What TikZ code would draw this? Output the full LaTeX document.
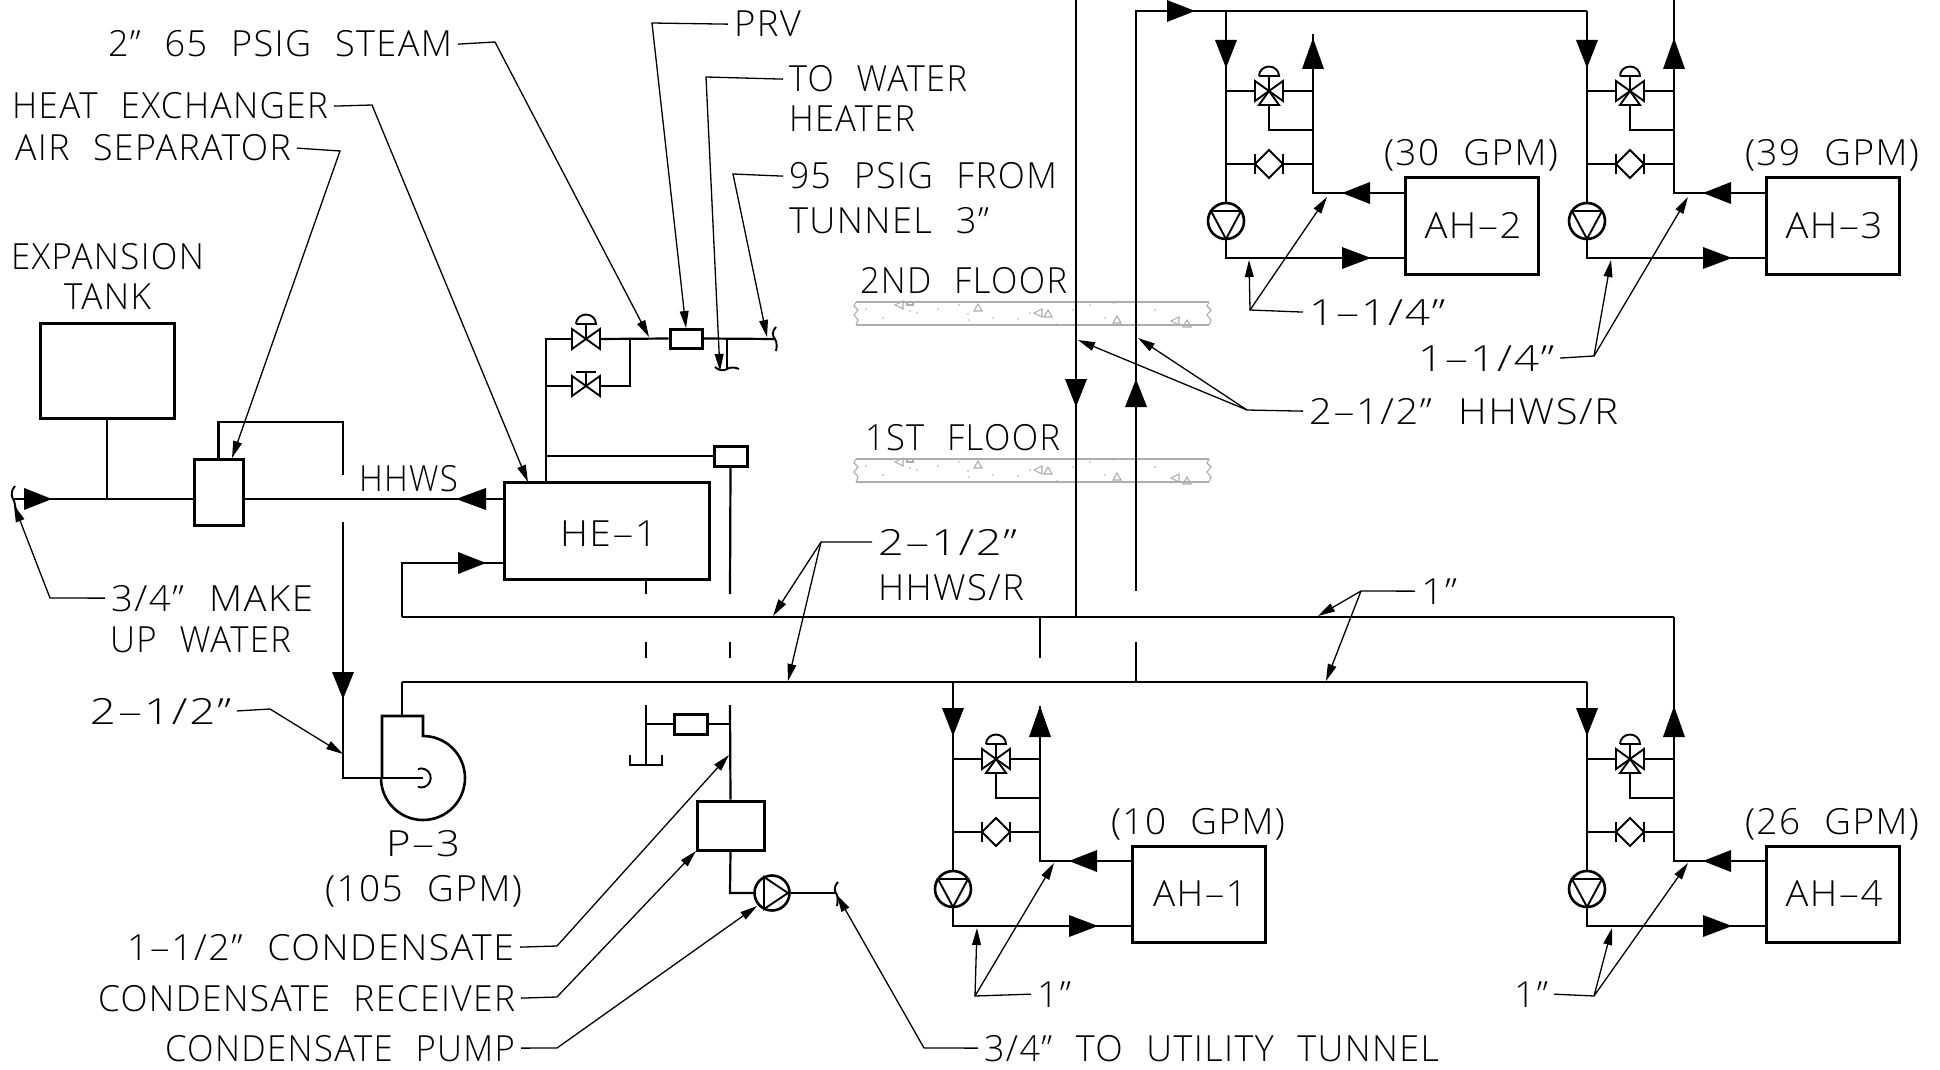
\documentclass[tikz,border=0pt]{standalone}
\usepackage{fontspec}
\usepackage{graphicx}
\usetikzlibrary{arrows.meta,calc}
\newfontfamily\cadfont[UprightFont=* Light,LetterSpace=4,WordSpace=2.2]{Open Sans}
\newsavebox\cadbox
\newlength\cadlen
\newcommand\cadfit[2]{\sbox\cadbox{\fontsize{18pt}{20pt}\cadfont #2}\setlength\cadlen{\wd\cadbox}\pgfmathsetmacro\cadr{#1*0.5/\cadlen}\scalebox{\cadr}[1]{\usebox\cadbox}}
\newcommand\hy{\scalebox{1.9}[1]{-}}
\newcommand\lab[5]{\node[lbl] (#1) at (#2,#3) {\cadfit{#4}{#5}};}
\newcommand\arH[3]{\fill (#1,#3-11) -- (#2,#3) -- (#1,#3+11) -- cycle;}
\newcommand\arV[3]{\fill (#1-11,#2) -- (#1,#3) -- (#1+11,#2) -- cycle;}
% air-handler unit: name, ox, oy, supply top, return top, box text, box text width, gpm text
\newcommand\ahunit[8]{%
\begin{scope}[shift={(#2,#3)}]
\coordinate (#1s) at (0,#4);
\coordinate (#1r) at (87,#5);
\coordinate (#1bs) at (179,167);
\coordinate (#1br) at (179,102);
\coordinate (#1cr) at (87,102);
\coordinate (#1c1) at (0,0);
\coordinate (#1c2) at (87,0);
\coordinate (#1d1) at (0,73);
\coordinate (#1d2) at (87,73);
\coordinate (#1ba) at (87,39);
\node[equip,minimum width=66.5pt,minimum height=48pt] (#1box) at (245.5,135) {};
\node[inner sep=0pt,anchor=base] (#1t) at (247,147) {\cadfit{#7}{#6}};
\node[pumpc] (#1p) at (0,130) {};
\node[lbl] (#1g) at (158,75) {\cadfit{174}{#8}};
\draw[pipe] (#1s) -- (#1p.north);
\draw[pipe] (#1p.south) |- (#1bs);
\draw[pipe] (#1r) -- (#1cr) -- (#1br);
\draw[pipe] (#1c1) -- (29,0);
\draw[pipe] (57,0) -- (#1c2);
\draw[pipe] (#1d1) -- (29,73);
\draw[pipe] (57,73) -- (#1d2);
\draw[pipe] (43,14) |- (#1ba);
\begin{scope}[xshift=21.5pt]
\draw[sym] (-14,-10) -- (-14,10) -- (14,-10) -- (14,10) -- cycle;
\draw[sym] (0,0) -- (-10,14) -- (10,14) -- cycle;
\draw[sym] (0,0) -- (0,-15);
\draw[sym] (-10,-15) -- (10,-15) arc[start angle=0,end angle=-180,x radius=10,y radius=9.5];
\draw[sym] (-14,63) -- (-14,83) (14,63) -- (14,83);
\draw[sym] (-14,73) -- (0,59) -- (14,73) -- (0,87) -- cycle;
\end{scope}
\draw[sym] (-15,120) -- (15,120) -- (0,148) -- cycle;
\arV{0}{-51}{-23}
\arV{87}{-22}{-53}
\arH{144}{116}{102}
\arH{116}{145}{167}
\end{scope}}
\newcommand\slab[1]{%
\begin{scope}[shift={(856,#1)},conc]
\draw (0,0) -- (353,0) (0,23) -- (353,23);
\draw (0,0) -- (-2,4) -- (2,8) -- (-2,13) -- (2,18) -- (0,23);
\draw (353,0) -- (351,4) -- (355,8) -- (351,13) -- (355,18) -- (353,23);
\foreach \a/\b in {122/6,192/12,261/18,331/22}
  \draw (\a-4,\b+3) -- (\a+4,\b+3) -- (\a,\b-4) -- cycle;
\foreach \a/\b in {43/3,182/11,319/19}
  \draw (\a+4,\b+4) -- (\a+4,\b-4) -- (\a-4,\b) -- cycle;
\draw (51,0) rectangle (57,3);
\foreach \a/\b in {10/7,27/16,54/9,61/11,82/7,103/3,112/12,113/18,137/16,162/17,174/11,201/22,217/8,234/3,249/16,258/1,299/8}
  \fill (\a,\b) circle[radius=0.8];
\end{scope}}
\begin{document}
\begin{tikzpicture}[x=0.5pt,y=-0.5pt,
  pipe/.style={line width=1.1pt,line join=miter},
  sym/.style={line width=0.95pt,line join=miter},
  equip/.style={draw,line width=1.5pt,inner sep=0pt},
  pumpc/.style={circle,draw,line width=1.3pt,minimum size=18pt,inner sep=0pt},
  leader/.style={line width=0.65pt,-{Triangle[length=8.5pt,width=4.4pt]},shorten >=0pt},
  lbl/.style={inner sep=0pt,outer sep=3pt,anchor=base west,xshift=-3pt},
  conc/.style={line width=0.55pt,draw=black!32,fill=black!32}]
\useasboundingbox (0,0) rectangle (1940,1070);
\fill[white] (0,0) rectangle (1940,1070);
\slab{302}
\slab{459}
% labels
\lab{tSteam}{108}{57}{344}{2” 65 PSIG STEAM}
\lab{tPrv}{734}{37}{67}{PRV}
\lab{tWat}{789}{92}{178}{TO WATER}
\lab{tWat2}{789}{132}{126}{HEATER}
\lab{tPsig}{789}{189}{268}{95 PSIG FROM}
\lab{tPsig2}{789}{234}{200}{TUNNEL 3”}
\lab{tHex}{12}{119}{316}{HEAT EXCHANGER}
\lab{tAir}{15}{161}{276}{AIR SEPARATOR}
\lab{tExp}{11}{270}{193}{EXPANSION}
\lab{tExp2}{64}{309}{87}{TANK}
\lab{tF2}{860}{293}{207}{2ND FLOOR}
\lab{tF1}{865}{450}{195}{1ST FLOOR}
\lab{tHhws}{359}{491}{99}{HHWS}
\lab{tMake}{111}{611}{202}{3/4” MAKE}
\lab{tMake2}{110}{652}{181}{UP WATER}
\lab{tMain}{878}{555}{139}{2\hy1/2”}
\lab{tMain2}{878}{600}{146}{HHWS/R}
\lab{tOne}{1421}{604}{36}{1”}
\lab{tPipe}{90}{724}{141}{2\hy1/2”}
\lab{tP3}{386}{856}{74}{P\hy3}
\lab{tGpm}{325}{901}{197}{(105 GPM)}
\lab{tCond}{127}{960}{387}{1\hy1/2” CONDENSATE}
\lab{tRec}{98}{1011}{417}{CONDENSATE RECEIVER}
\lab{tCp}{165}{1061}{350}{CONDENSATE PUMP}
\lab{tUtil}{984}{1061}{455}{3/4” TO UTILITY TUNNEL}
\lab{tA}{1037}{1007}{34}{1”}
\lab{tD}{1514}{1007}{34}{1”}
\lab{tB}{1309}{325}{136}{1\hy1/4”}
\lab{tC}{1418}{371}{136}{1\hy1/4”}
\lab{tHR}{1309}{424}{309}{2\hy1/2” HHWS/R}
\lab{tHe}{560}{546}{97}{HE\hy1}
% equipment
\node[equip,minimum width=67pt,minimum height=47.5pt] (tank) at (107,370.5) {};
\node[equip,minimum width=24.5pt,minimum height=33pt] (sep) at (218.5,492) {};
\node[equip,minimum width=102.5pt,minimum height=48.5pt] (he) at (606.5,530.5) {};
\node[equip,minimum width=16pt,minimum height=9.5pt] (prv) at (686,338.5) {};
\node[equip,minimum width=16.5pt,minimum height=10pt] (ctl) at (730.5,456) {};
\node[equip,minimum width=16.5pt,minimum height=10pt] (trap) at (690.5,724) {};
\node[equip,minimum width=33.5pt,minimum height=24.5pt] (rec) at (730.5,825.5) {};
\node[pumpc,minimum size=17.5pt] (cpump) at (772,893) {};
% air handlers
\ahunit{ahB}{1226}{91}{-80}{-57}{AH\hy2}{97}{(30 GPM)}
\ahunit{ahC}{1587}{91}{-80}{-91}{AH\hy3}{97}{(39 GPM)}
\ahunit{ahA}{953}{759}{-77}{-53}{AH\hy1}{94}{(10 GPM)}
\ahunit{ahD}{1587}{759}{-77}{-142}{AH\hy4}{97}{(26 GPM)}
% junctions
\coordinate (mL) at (14,499);
\coordinate (mT) at (107,499);
\coordinate (sW) at (194,499);
\coordinate (sE) at (243,499);
\coordinate (mHe) at (504,499);
\coordinate (sTop) at (218.5,422);
\coordinate (sDn) at (343,422);
\coordinate (sGap) at (343,475);
\coordinate (pIn) at (343,522);
\coordinate (pKn) at (343,778);
\coordinate (pEye) at (423,778);
\coordinate (vTop) at (402,716);
\coordinate (uL) at (402,617);
\coordinate (lL) at (402,682);
\coordinate (rK) at (402,563);
\coordinate (rHe) at (504,563);
\coordinate (uR) at (1674,617);
\coordinate (lR) at (1587,682);
\coordinate (v1) at (1076,0);
\coordinate (v1b) at (1076,617);
\coordinate (v2t) at (1587,11);
\coordinate (v2k) at (1136,11);
\coordinate (v2a) at (1136,591);
\coordinate (v2c) at (1136,642);
\coordinate (v2b) at (1136,682);
\coordinate (v3a) at (1040,617);
\coordinate (v3b) at (1040,658);
% main piping
\draw[pipe] (mL) -- (sW);
\draw[pipe] (sE) -- (mHe);
\draw[pipe] (tank.south) -- (mT);
\draw[pipe] (sep.north) -- (sTop) -- (sDn) -- (sGap);
\draw[pipe] (pIn) -- (pKn) -- (pEye);
\draw[pipe] (vTop) -- (lL);
\draw[pipe] (uL) -- (rK) -- (rHe);
\draw[pipe] (uL) -- (uR);
\draw[pipe] (lL) -- (lR);
\draw[pipe] (v1) -- (v1b);
\draw[pipe] (v2t) -- (v2k) -- (v2a);
\draw[pipe] (v2c) -- (v2b);
\draw[pipe] (v3a) -- (v3b);
\arH{24}{52}{499}
\arH{486}{456}{499}
\arH{458}{486}{563}
\arV{343}{672}{699}
\arV{1076}{379}{407}
\arV{1136}{407}{379}
\arH{1167}{1195}{11}
% volute
\draw[line width=1.3pt] (382,778) -- (382,716) -- (423,716) -- (423,736)
  arc[start angle=-90,end angle=180,radius=42];
\draw[line width=0.95pt] (418,769) arc[start angle=-110,end angle=110,radius=9.5];
% steam train
\coordinate (hT) at (546,482);
\coordinate (hV) at (546,339);
\coordinate (hV2) at (546,386);
\coordinate (hC) at (546,456);
\coordinate (vBy) at (630,339);
\coordinate (vBy2) at (630,386);
\coordinate (stEnd) at (775,339);
\coordinate (wh) at (727,339);
\coordinate (whE) at (727,368);
\draw[pipe] (hT) -- (hV) -- (572,339);
\draw[pipe] (600,339) -- (prv.west);
\draw[pipe] (prv.east) -- (stEnd);
\draw[pipe] (hV2) -- (572,386);
\draw[pipe] (600,386) -- (vBy2) -- (vBy);
\draw[pipe] (wh) -- (whE);
\draw[pipe] (hC) -- (ctl.west);
\begin{scope}[shift={(586,339)}]
\draw[sym] (-14,-10) -- (-14,10) -- (14,-10) -- (14,10) -- cycle;
\draw[sym] (0,0) -- (0,-15);
\draw[sym] (-10,-15) -- (10,-15) arc[start angle=0,end angle=-180,x radius=10,y radius=9.5];
\end{scope}
\begin{scope}[shift={(586,386)}]
\draw[sym] (-14,-10) -- (-14,10) -- (14,-10) -- (14,10) -- cycle;
\draw[sym] (0,0) -- (0,-14) (-10,-14) -- (10,-14);
\end{scope}
% breaks
\draw[sym] (15,486) .. controls (11,490) and (11,496) .. (13,499) .. controls (15,502) and (15,506) .. (16,510);
\draw[sym] (776,327) .. controls (772,331) and (772,336) .. (775,339) .. controls (777,342) and (777,347) .. (776,351);
\draw[sym] (715,367) .. controls (719,371) and (724,371) .. (727,369) .. controls (730,367) and (735,367) .. (739,369);
\draw[sym] (838,882) .. controls (834,886) and (834,891) .. (836,893) .. controls (838,896) and (838,901) .. (837,906);
% condensate
\coordinate (cx1) at (646,579);
\coordinate (cx1a) at (646,594);
\coordinate (cx2) at (646,642);
\coordinate (cx2a) at (646,658);
\coordinate (cx3) at (646,705);
\coordinate (cx3a) at (646,765);
\coordinate (cy1a) at (730,594);
\coordinate (cy2) at (730,642);
\coordinate (cy2a) at (730,658);
\coordinate (cy3) at (730,705);
\coordinate (tj) at (730,724);
\coordinate (tk) at (646,724);
\coordinate (rK2) at (730,893);
\coordinate (oE) at (836,893);
\draw[pipe] (cx1) -- (cx1a);
\draw[pipe] (cx2) -- (cx2a);
\draw[pipe] (cx3) -- (cx3a);
\draw[pipe] (ctl.south) -- (cy1a);
\draw[pipe] (cy2) -- (cy2a);
\draw[pipe] (cy3) -- (rec.north);
\draw[pipe] (tk) -- (trap.west);
\draw[pipe] (trap.east) -- (tj);
\draw[sym] (630,755) |- (662,765) -- (662,755);
\draw[pipe] (rec.south) -- (rK2) -- (cpump.west);
\draw[pipe] (cpump.east) -- (oE);
\draw[sym] (764,877) -- (788,893) -- (764,909) -- cycle;
% leaders
\coordinate (e1) at (495,42); \coordinate (a1) at (649,337);
\coordinate (e2) at (652,23); \coordinate (a2) at (686,328);
\coordinate (e3) at (706,77); \coordinate (a3) at (720,371);
\coordinate (e4) at (733,174); \coordinate (a4) at (767,337);
\coordinate (e5) at (372,105); \coordinate (a5) at (528,482);
\coordinate (e6) at (340,151); \coordinate (a6) at (232,458);
\coordinate (e7) at (50,598); \coordinate (a7) at (14,505);
\coordinate (e8) at (270,709); \coordinate (a8) at (343,754);
\coordinate (e9) at (821,542); \coordinate (a9) at (773,616); \coordinate (a9b) at (788,681);
\coordinate (e10) at (1361,591); \coordinate (a10) at (1318,616); \coordinate (a10b) at (1326,681);
\coordinate (e11) at (557,946); \coordinate (a11) at (729,755);
\coordinate (e12) at (557,997); \coordinate (a12) at (696,851);
\coordinate (e13) at (557,1048); \coordinate (a13) at (757,906);
\coordinate (e14) at (924,1048); \coordinate (a14) at (837,895);
\coordinate (e15) at (975,996); \coordinate (a15) at (977,928); \coordinate (a15b) at (1054,863);
\coordinate (e16) at (1594,996); \coordinate (a16) at (1612,928); \coordinate (a16b) at (1688,863);
\coordinate (e17) at (1250,310); \coordinate (a17) at (1249,260); \coordinate (a17b) at (1327,197);
\coordinate (e18) at (1594,356); \coordinate (a18) at (1611,260); \coordinate (a18b) at (1688,197);
\coordinate (e19) at (1247,410); \coordinate (a19) at (1078,340); \coordinate (a19b) at (1138,338);
\draw[leader] (tSteam.east) -- (e1) -- (a1);
\draw[leader] (tPrv.west) -- (e2) -- (a2);
\draw[leader] (tWat.west) -- (e3) -- (a3);
\draw[leader] (tPsig.west) -- (e4) -- (a4);
\draw[leader] (tHex.east) -- (e5) -- (a5);
\draw[leader] (tAir.east) -- (e6) -- (a6);
\draw[leader] (tMake.west) -- (e7) -- (a7);
\draw[leader] (tPipe.east) -- (e8) -- (a8);
\draw[leader] (tMain.west) -- (e9) -- (a9);
\draw[leader] (e9) -- (a9b);
\draw[leader] (tOne.west) -- (e10) -- (a10);
\draw[leader] (e10) -- (a10b);
\draw[leader] (tCond.east) -- (e11) -- (a11);
\draw[leader] (tRec.east) -- (e12) -- (a12);
\draw[leader] (tCp.east) -- (e13) -- (a13);
\draw[leader] (tUtil.west) -- (e14) -- (a14);
\draw[leader] (tA.west) -- (e15) -- (a15);
\draw[leader] (e15) -- (a15b);
\draw[leader] (tD.east) -- (e16) -- (a16);
\draw[leader] (e16) -- (a16b);
\draw[leader] (tB.west) -- (e17) -- (a17);
\draw[leader] (e17) -- (a17b);
\draw[leader] (tC.east) -- (e18) -- (a18);
\draw[leader] (e18) -- (a18b);
\draw[leader] (tHR.west) -- (e19) -- (a19);
\draw[leader] (e19) -- (a19b);
\end{tikzpicture}
\end{document}
